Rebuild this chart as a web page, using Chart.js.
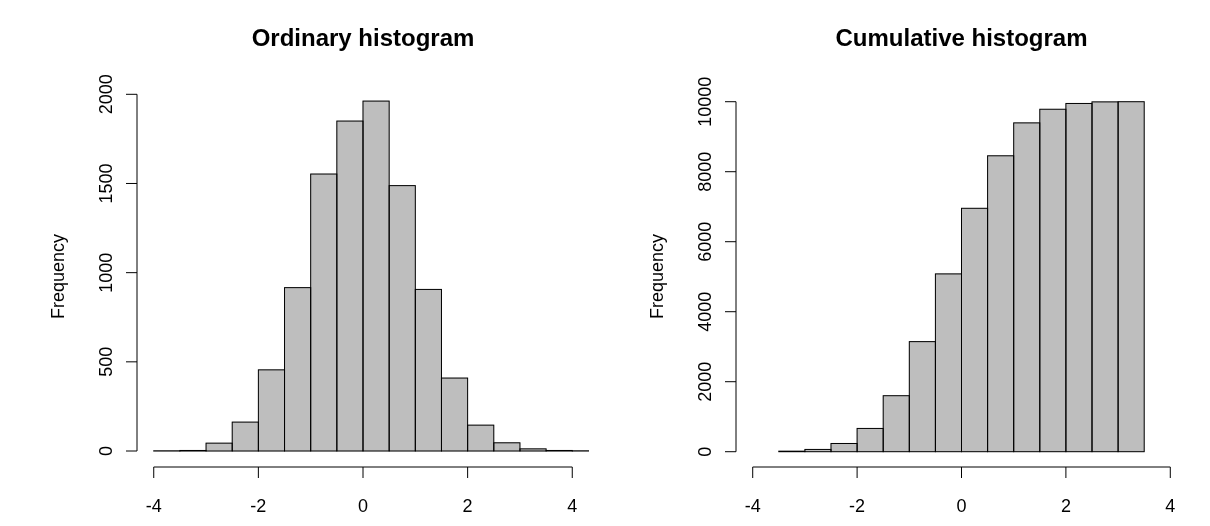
<!DOCTYPE html>
<html>
<head>
<meta charset="utf-8">
<script src="https://cdn.jsdelivr.net/npm/chart.js@4.4.1/dist/chart.umd.min.js"></script>
<style>
  html, body { margin: 0; padding: 0; background: #ffffff; }
  #wrap { position: relative; width: 1210px; height: 526px; }
  canvas { position: absolute; left: 0; top: 0; }
</style>
</head>
<body>
<div id="wrap">
  <canvas id="left" width="1210" height="526"></canvas>
  <canvas id="right" width="1210" height="526"></canvas>
</div>
<script>
// ---- data ----
const leftTitle = "Ordinary histogram";
const rightTitle = "Cumulative histogram";
const yLabel = "Frequency";

const leftBreaks = [-4, -3.5, -3, -2.5, -2, -1.5, -1, -0.5, 0, 0.5, 1, 1.5, 2, 2.5, 3, 3.5, 4, 4.5];
const leftCounts = [1, 3, 44, 162, 455, 916, 1553, 1850, 1962, 1488, 906, 409, 145, 46, 12, 3, 1];

const rightBreaks = [-3.5, -3, -2.5, -2, -1.5, -1, -0.5, 0, 0.5, 1, 1.5, 2, 2.5, 3, 3.5];
const rightCounts = [15, 65, 235, 665, 1600, 3145, 5080, 6955, 8455, 9395, 9785, 9950, 9995, 10000];

const xTicks = [-4, -2, 0, 2, 4];
const leftYTicks = [0, 500, 1000, 1500, 2000];
const rightYTicks = [0, 2000, 4000, 6000, 8000, 10000];

// ---- helpers ----
function toPoints(breaks, counts) {
  return counts.map((c, i) => ({ x: (breaks[i] + breaks[i + 1]) / 2, y: c }));
}

const FONT = '"Liberation Sans", Arial, Helvetica, sans-serif';

const rStyle = {
  id: 'rStyle',
  afterDatasetsDraw(chart) {
    // bar outlines (shared edges drawn once, like R's rect())
    const ctx = chart.ctx;
    const a = chart.chartArea;
    ctx.save();
    ctx.beginPath();
    ctx.rect(a.left, a.top, a.right - a.left, a.bottom - a.top);
    ctx.clip();
    ctx.strokeStyle = '#000000';
    ctx.lineWidth = 1;
    chart.getDatasetMeta(0).data.forEach(el => {
      const p = el.getProps(['x', 'y', 'base', 'width'], true);
      ctx.strokeRect(p.x - p.width / 2, p.y, p.width, p.base - p.y);
    });
    ctx.restore();
  },
  afterDraw(chart, args, opts) {
    const ctx = chart.ctx;
    const a = chart.chartArea;
    const xs = chart.scales.x, ys = chart.scales.y;
    ctx.save();
    ctx.strokeStyle = '#000000';
    ctx.fillStyle = '#000000';
    ctx.lineWidth = 1;
    const tickLen = 11;

    // x axis
    const xb = a.bottom;
    const xt = opts.xTicks;
    ctx.beginPath();
    ctx.moveTo(xs.getPixelForValue(xt[0]), xb);
    ctx.lineTo(xs.getPixelForValue(xt[xt.length - 1]), xb);
    xt.forEach(v => {
      const px = xs.getPixelForValue(v);
      ctx.moveTo(px, xb);
      ctx.lineTo(px, xb + tickLen);
    });
    ctx.stroke();
    ctx.font = '18px ' + FONT;
    ctx.textAlign = 'center';
    ctx.textBaseline = 'alphabetic';
    xt.forEach(v => {
      ctx.fillText(String(v), xs.getPixelForValue(v), xb + 44.5);
    });

    // y axis
    const yl = a.left;
    const yt = opts.yTicks;
    ctx.beginPath();
    ctx.moveTo(yl, ys.getPixelForValue(yt[0]));
    ctx.lineTo(yl, ys.getPixelForValue(yt[yt.length - 1]));
    yt.forEach(v => {
      const py = ys.getPixelForValue(v);
      ctx.moveTo(yl, py);
      ctx.lineTo(yl - tickLen, py);
    });
    ctx.stroke();
    yt.forEach(v => {
      const py = ys.getPixelForValue(v);
      ctx.save();
      ctx.translate(yl - 25.5, py);
      ctx.rotate(-Math.PI / 2);
      ctx.textAlign = 'center';
      ctx.fillText(String(v), 0, 0);
      ctx.restore();
    });

    // y label
    ctx.save();
    ctx.translate(yl - 73, (a.top + a.bottom) / 2);
    ctx.rotate(-Math.PI / 2);
    ctx.textAlign = 'center';
    ctx.fillText(opts.yLabel, 0, 0);
    ctx.restore();

    // title
    ctx.font = 'bold 24px ' + FONT;
    ctx.textAlign = 'center';
    ctx.fillText(opts.title, (a.left + a.right) / 2, 46);
    ctx.restore();
  }
};

function makeChart(id, breaks, counts, yMin, yMax, padding, title, yTicks) {
  return new Chart(document.getElementById(id), {
    type: 'bar',
    data: {
      datasets: [{
        data: toPoints(breaks, counts),
        backgroundColor: '#bebebe',
        borderWidth: 0,
        categoryPercentage: 1.0,
        barPercentage: 1.0,
        grouped: false,
        clip: 0
      }]
    },
    options: {
      responsive: false,
      animation: false,
      maintainAspectRatio: false,
      layout: { padding: padding },
      plugins: {
        legend: { display: false },
        tooltip: { enabled: false },
        rStyle: { title: title, yLabel: yLabel, xTicks: xTicks, yTicks: yTicks }
      },
      scales: {
        x: { type: 'linear', min: -4.32, max: 4.32, offset: false, display: false },
        y: { type: 'linear', min: yMin, max: yMax, display: false }
      }
    },
    plugins: [rStyle]
  });
}

makeChart('left', leftBreaks, leftCounts, -89.7, 2046.6,
  { left: 137, right: 621, top: 86, bottom: 59 }, leftTitle, leftYTicks);
makeChart('right', rightBreaks, rightCounts, -437, 10449,
  { left: 736, right: 23, top: 86, bottom: 59 }, rightTitle, rightYTicks);
</script>
</body>
</html>
